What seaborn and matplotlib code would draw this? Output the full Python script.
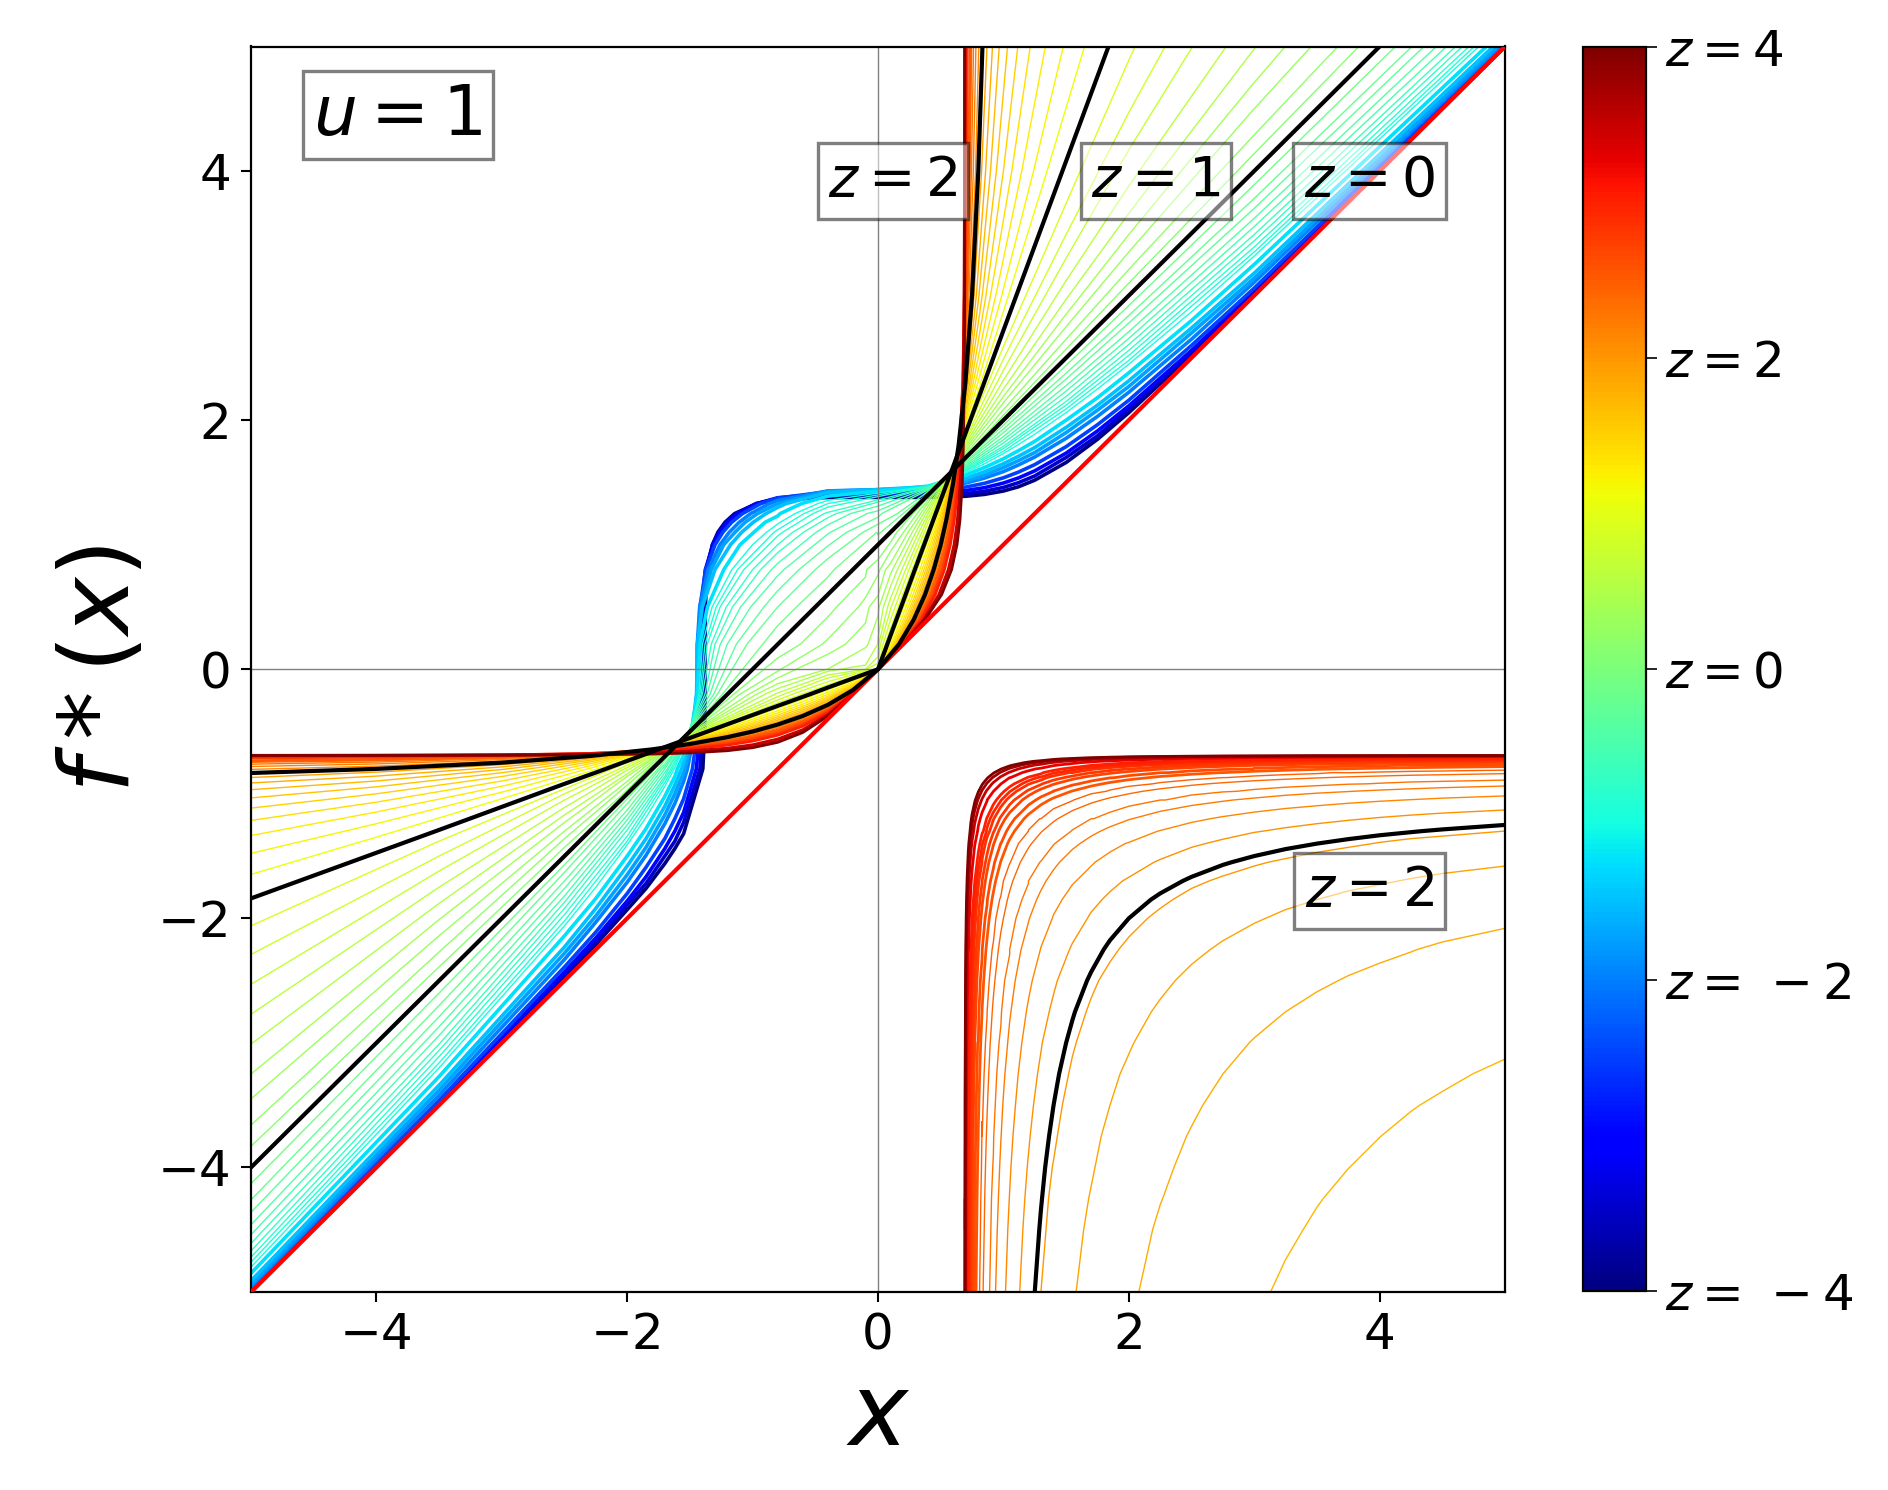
import numpy as np
import pandas as pd
import matplotlib
matplotlib.use("Agg")
import matplotlib.pyplot as plt
import seaborn as sns

# All curve values are estimates read off the reference chart and typed by hand.
KN_X1 = [-5, -3.5, -2.5, -2, -1.7, -1.55]
KN_Y2 = [-.8, -.5, -.2, .2, .5, .8, 1.1, 1.25]
KN_X3_NEG = [-.8, -.4, 0, .4, .7, 1, 1.5, 2, 3, 5]
KN_X3_POS = [-.8, -.4, -.1, 0, .1, .4, .7, 1, 1.5, 2, 3, 5]

Z_NEG = [-4, -3.5, -3, -2.5, -2, -1.75, -1.5, -1.25, -1, -.9, -.8, -.7, -.6, -.5, -.4, -.3, -.2, -.1]
NEG_LEFT = [
    [-5.00, -3.49, -2.47, -1.93, -1.56, -1.32], [-4.99, -3.48, -2.45, -1.89, -1.50, -1.23],
    [-4.99, -3.48, -2.43, -1.86, -1.44, -1.15], [-4.98, -3.46, -2.39, -1.80, -1.36, -1.04],
    [-4.96, -3.42, -2.33, -1.71, -1.24, -.90], [-4.94, -3.38, -2.28, -1.65, -1.17, -.83],
    [-4.91, -3.34, -2.23, -1.58, -1.10, -.75], [-4.85, -3.27, -2.14, -1.50, -1.02, -.69],
    [-4.80, -3.20, -2.06, -1.41, -.94, -.63], [-4.76, -3.16, -2.02, -1.38, -.91, -.62],
    [-4.72, -3.11, -1.97, -1.34, -.88, -.60], [-4.67, -3.06, -1.92, -1.29, -.86, -.59],
    [-4.61, -3.01, -1.87, -1.25, -.83, -.58], [-4.54, -2.94, -1.82, -1.21, -.80, -.57],
    [-4.46, -2.87, -1.76, -1.17, -.78, -.56], [-4.36, -2.79, -1.70, -1.13, -.76, -.56],
    [-4.26, -2.70, -1.63, -1.08, -.73, -.55], [-4.13, -2.60, -1.57, -1.04, -.72, -.55],
]
NEG_MID = [
    [-1.397, -1.382, -1.380, -1.380, -1.377, -1.361, -1.277, -1.143],
    [-1.42, -1.40, -1.397, -1.397, -1.393, -1.37, -1.27, -1.13],
    [-1.449, -1.420, -1.414, -1.414, -1.409, -1.377, -1.262, -1.117],
    [-1.48, -1.44, -1.431, -1.430, -1.42, -1.374, -1.237, -1.08],
    [-1.52, -1.462, -1.443, -1.441, -1.422, -1.355, -1.186, -1.015],
    [-1.54, -1.47, -1.445, -1.44, -1.41, -1.33, -1.14, -.96],
    [-1.567, -1.483, -1.447, -1.439, -1.401, -1.30, -1.087, -.893],
    [-1.60, -1.49, -1.44, -1.42, -1.36, -1.23, -.99, -.78],
    [-1.625, -1.50, -1.428, -1.40, -1.323, -1.166, -.889, -.661],
    [-1.64, -1.50, -1.42, -1.38, -1.29, -1.12, -.83, -.59],
    [-1.652, -1.505, -1.41, -1.362, -1.259, -1.07, -.762, -.518],
    [-1.67, -1.51, -1.40, -1.33, -1.21, -1.00, -.68, -.43],
    [-1.68, -1.51, -1.38, -1.30, -1.16, -.936, -.594, -.332],
    [-1.70, -1.51, -1.362, -1.258, -1.095, -.85, -.493, -.218],
    [-1.72, -1.51, -1.339, -1.203, -1.015, -.75, -.379, -.087],
    [-1.74, -1.51, -1.31, -1.13, -.91, -.63, -.25, .03],
    [-1.756, -1.507, -1.28, -1.046, -.80, -.50, -.12, .155],
    [-1.78, -1.50, -1.24, -.92, -.65, -.35, -.01, .20],
]
NEG_RIGHT = [
    [1.361, 1.379, 1.38, 1.38, 1.389, 1.431, 1.66, 2.06, 3.01, 5.00],
    [1.37, 1.40, 1.40, 1.40, 1.41, 1.46, 1.70, 2.09, 3.02, 5.00],
    [1.377, 1.412, 1.414, 1.416, 1.435, 1.495, 1.735, 2.115, 3.036, 5.008],
    [1.374, 1.426, 1.431, 1.435, 1.463, 1.537, 1.787, 2.16, 3.06, 5.02],
    [1.355, 1.432, 1.442, 1.452, 1.495, 1.587, 1.854, 2.224, 3.107, 5.04],
    [1.33, 1.43, 1.44, 1.46, 1.51, 1.62, 1.90, 2.27, 3.14, 5.06],
    [1.30, 1.419, 1.443, 1.466, 1.533, 1.65, 1.942, 2.316, 3.18, 5.09],
    [1.23, 1.39, 1.43, 1.47, 1.56, 1.69, 2.00, 2.38, 3.25, 5.14],
    [1.166, 1.356, 1.414, 1.47, 1.578, 1.732, 2.06, 2.449, 3.317, 5.196],
    [1.12, 1.33, 1.40, 1.47, 1.59, 1.75, 2.09, 2.48, 3.35, 5.23],
    [1.07, 1.302, 1.386, 1.467, 1.598, 1.772, 2.12, 2.52, 3.39, 5.27],
    [1.00, 1.26, 1.36, 1.46, 1.61, 1.79, 2.15, 2.56, 3.44, 5.32],
    [.936, 1.217, 1.342, 1.459, 1.62, 1.817, 2.19, 2.607, 3.49, 5.37],
    [.85, 1.159, 1.31, 1.454, 1.632, 1.842, 2.233, 2.656, 3.554, 5.44],
    [.75, 1.086, 1.272, 1.447, 1.645, 1.868, 2.277, 2.71, 3.62, 5.52],
    [.63, .99, 1.22, 1.44, 1.66, 1.90, 2.33, 2.78, 3.70, 5.62],
    [.50, .888, 1.164, 1.427, 1.67, 1.929, 2.377, 2.84, 3.78, 5.72],
    [.35, .74, 1.08, 1.41, 1.685, 1.96, 2.44, 2.92, 3.89, 5.86],
]

# extra readings along the bent parts of the nine bluest curves
Z_NEG_FINE = [-4, -3.5, -3, -2.5, -2, -1.75, -1.5, -1.25, -1]
KN_FINE_X = [-2.25, -1.85, -1.62, .85, 1.12, 1.25, 1.75, 2.5]
FINE_Y = [
    [-2.21, -1.76, -1.44, 1.404, 1.465, 1.518, 1.846, 2.525],
    [-2.19, -1.72, -1.38, 1.429, 1.498, 1.552, 1.874, 2.54],
    [-2.157, -1.667, -1.30, 1.458, 1.536, 1.593, 1.913, 2.56],
    [-2.11, -1.59, -1.20, 1.493, 1.583, 1.643, 1.963, 2.60],
    [-2.03, -1.494, -1.077, 1.535, 1.64, 1.704, 2.03, 2.65],
    [-1.98, -1.43, -1.0, 1.56, 1.675, 1.74, 2.08, 2.70],
    [-1.92, -1.36, -.93, 1.586, 1.71, 1.78, 2.12, 2.74],
    [-1.84, -1.28, -.86, 1.62, 1.755, 1.83, 2.18, 2.80],
    [-1.75, -1.19, -.79, 1.65, 1.804, 1.887, 2.25, 2.87],
]
KN_FINE_Y = [1.0, 1.18, 1.33]
FINE_X = [
    [-1.32, -1.22, -.965], [-1.32, -1.214, -.974], [-1.316, -1.198, -.966],
    [-1.299, -1.167, -.935], [-1.26, -1.107, -.865], [-1.23, -1.06, -.80],
    [-1.176, -.995, -.733], [-1.10, -.90, -.61], [-1.0, -.78, -.48],
]

Z_POS = [0, .1, .2, .3, .4, .5, .6, .7, .8, .9, 1]
POS_LEFT = [
    [-4, -2.5, -1.5, -1, -.7, -.55], [-3.83, -2.39, -1.43, -.97, -.69, -.55],
    [-3.66, -2.27, -1.36, -.93, -.67, -.55], [-3.45, -2.14, -1.30, -.90, -.66, -.55],
    [-3.25, -2.01, -1.23, -.86, -.65, -.55], [-3.01, -1.88, -1.17, -.84, -.65, -.55],
    [-2.77, -1.75, -1.11, -.81, -.64, -.56], [-2.53, -1.62, -1.05, -.79, -.635, -.56],
    [-2.29, -1.50, -1.00, -.77, -.63, -.56], [-2.06, -1.38, -.96, -.75, -.63, -.57],
    [-1.84, -1.29, -.92, -.736, -.625, -.57],
]
POS_MID = [
    [-1.8, -1.5, -1.2, -.8, -.5, -.2, .1, .25],
    [-1.83, -1.50, -1.15, -.62, -.33, -.09, .15, .28],
    [-1.85, -1.49, -1.10, -.446, -.156, .016, .203, .313],
    [-1.88, -1.48, -1.03, -.26, -.07, .06, .24, .34],
    [-1.91, -1.47, -.968, -.08, .009, .116, .273, .362],
    [-1.94, -1.46, -.90, -.003, .043, .155, .301, .382],
    [-1.98, -1.44, -.82, .0055, .077, .19, .326, .40],
    [-2.02, -1.42, -.75, .02, .105, .22, .35, .42],
    [-2.06, -1.41, -.68, .04, .136, .247, .369, .433],
    [-2.12, -1.38, -.605, .057, .16, .272, .387, .447],
    [-2.17, -1.36, -.54, .074, .184, .294, .405, .46],
]
POS_RIGHT = [
    [.2, .6, .9, 1, 1.1, 1.4, 1.7, 2, 2.5, 3, 4, 6],
    [.09, .42, .74, .88, 1.02, 1.38, 1.71, 2.04, 2.57, 3.10, 4.14, 6.2],
    [-.016, .241, .575, .757, .947, 1.361, 1.73, 2.085, 2.65, 3.21, 4.29, 6.42],
    [-.07, .12, .37, .59, .85, 1.34, 1.75, 2.14, 2.75, 3.35, 4.50, 6.7],
    [-.116, .002, .173, .427, .764, 1.31, 1.77, 2.19, 2.85, 3.49, 4.71, 7.05],
    [-.155, -.017, .034, .25, .666, 1.28, 1.79, 2.25, 2.97, 3.66, 4.98, 7.49],
    [-.19, -.046, 0, .101, .569, 1.25, 1.81, 2.32, 3.12, 3.88, 5.32, 8.06],
    [-.22, -.07, -.007, .05, .48, 1.22, 1.83, 2.40, 3.30, 4.17, 5.8, 8.95],
    [-.247, -.10, -.015, 0, .396, 1.18, 1.85, 2.49, 3.49, 4.47, 6.3, 9.85],
    [-.27, -.125, -.026, 0, .326, 1.13, 1.88, 2.59, 3.74, 4.89, 7.07, 11.3],
    [-.294, -.147, -.037, 0, .272, 1.087, 1.90, 2.72, 4.08, 5.44, 8.15, 13.6],
]

# z > 1: |y| on the left arm at |x| = KN_T; the upper arm is the mirror pair (v, T)
KN_T = [5, 4, 3, 2.3, 1.8, 1.5, 1.2, 1, .8, .6, .4, .2, 0]
Z_PLUS = [1.1, 1.2, 1.3, 1.4, 1.5, 1.6, 1.7, 1.8, 1.9, 2, 2.1, 2.2, 2.3, 2.4, 2.5, 2.75, 3, 3.25, 3.5, 4]
PLUS_V = [
    [1.647, 1.348, 1.04, .82, .657, .557, .455, .386, .314, .242, .167, .088, 0],
    [1.478, 1.24, .987, .796, .652, .562, .468, .402, .334, .261, .185, .102, 0],
    [1.335, 1.146, .939, .776, .649, .567, .48, .417, .351, .28, .202, .114, 0],
    [1.214, 1.067, .897, .759, .647, .572, .49, .431, .367, .297, .217, .124, 0],
    [1.115, 1.0, .861, .744, .645, .577, .501, .444, .382, .312, .231, .134, 0],
    [1.033, .944, .831, .731, .643, .582, .511, .457, .396, .326, .244, .142, 0],
    [.967, .897, .805, .72, .643, .586, .52, .469, .409, .34, .255, .149, 0],
    [.913, .858, .784, .711, .642, .591, .529, .48, .422, .352, .267, .156, 0],
    [.869, .826, .766, .704, .643, .596, .537, .49, .433, .364, .276, .162, 0],
    [.833, .8, .75, .697, .643, .6, .545, .5, .444, .375, .286, .167, 0],
    [.804, .778, .737, .692, .644, .604, .553, .509, .455, .385, .294, .171, 0],
    [.781, .76, .726, .688, .645, .609, .56, .518, .465, .395, .302, .175, 0],
    [.762, .745, .717, .684, .646, .613, .568, .527, .474, .404, .31, .178, 0],
    [.747, .734, .71, .681, .647, .617, .574, .535, .483, .413, .317, .181, 0],
    [.734, .724, .704, .679, .649, .621, .58, .543, .492, .422, .323, .184, 0],
    [.712, .706, .694, .676, .653, .631, .596, .561, .512, .441, .337, .189, 0],
    [.70, .696, .688, .676, .658, .64, .609, .577, .53, .457, .348, .192, 0],
    [.692, .691, .689, .684, .675, .664, .644, .618, .574, .497, .371, .198, 0],
    [.691, .69, .686, .68, .669, .656, .633, .606, .56, .485, .365, .197, 0],
    [.693, .692, .691, .687, .681, .672, .654, .63, .587, .508, .377, .198, 0],
]

# lower-right branch: partner coordinate w at each knot
KN_W = [5, 4.5, 4, 3.5, 3, 2.5, 2, 1.7, 1.4, 1.2, 1.05, .98, .92, .87, .83, .8, .77, .75, .74, .72, .71, .70]
Z_LOW = [1.737, 1.818, 1.899, 1.98, 2, 2.061, 2.141, 2.222, 2.303, 2.384, 2.465, 2.545, 2.626, 2.707, 2.79,
         2.87, 2.95, 3.03, 3.25, 3.5, 3.75, 4]
LOW_W = [
    [3.13, 3.39, 3.76, 4.32, 5.31, 7.43],
    [2.08, 2.19, 2.36, 2.59, 2.96, 3.67, 5.41, 8.7],
    [1.58, 1.64, 1.73, 1.85, 2.04, 2.37, 3.09, 4.15, 7.7, 28],
    [1.30, 1.34, 1.39, 1.47, 1.58, 1.76, 2.15, 2.64, 3.94, 7.24, 40],
    [1.25, 1.286, 1.333, 1.4, 1.5, 1.667, 2, 2.43, 3.5, 6, 21],
    [1.13, 1.155, 1.19, 1.24, 1.31, 1.43, 1.67, 1.95, 2.61, 3.89, 7.9, 21],
    [1.017, 1.035, 1.06, 1.096, 1.147, 1.23, 1.39, 1.58, 1.97, 2.65, 4.19, 6.5, 16],
    [.9375, .951, .97, .995, 1.034, 1.094, 1.208, 1.34, 1.61, 2.03, 2.83, 3.78, 5.87, 15],
    [.89, .90, .915, .935, .965, 1.01, 1.10, 1.20, 1.41, 1.72, 2.29, 2.86, 3.9, 6.5, 16],
    [.838, .847, .857, .873, .895, .932, 1.0, 1.075, 1.224, 1.434, 1.783, 2.11, 2.63, 3.58, 5.7, 15],
    [.81, .817, .825, .838, .857, .887, .94, 1.0, 1.12, 1.29, 1.56, 1.82, 2.19, 2.78, 3.63, 5.7],
    [.782, .787, .794, .804, .819, .843, .887, .938, 1.033, 1.165, 1.365, 1.54, 1.79, 2.16, 2.73, 3.69, 7.2],
    [.765, .769, .775, .783, .795, .816, .854, .897, .978, 1.09, 1.258, 1.40, 1.60, 1.89, 2.32, 2.99, 4.2],
    [.748, .751, .756, .762, .772, .789, .821, .856, .924, 1.015, 1.151, 1.262, 1.413, 1.62, 1.906, 2.29, 3.10, 4.65, 7.1],
    [.737, .74, .743, .749, .757, .772, .80, .83, .89, .97, 1.087, 1.183, 1.31, 1.484, 1.716, 2.02, 2.62, 3.7, 4.9],
    [.726, .728, .731, .736, .743, .755, .779, .805, .856, .924, 1.024, 1.104, 1.209, 1.348, 1.527, 1.75, 2.15, 2.69, 3.19, 7.7],
    [.719, .721, .723, .727, .734, .744, .765, .788, .834, .895, .984, 1.055, 1.148, 1.27, 1.423, 1.61, 1.937, 2.36, 2.73, 5.5],
    [.712, .714, .716, .719, .725, .734, .751, .772, .812, .866, .944, 1.006, 1.086, 1.19, 1.319, 1.47, 1.724, 2.03, 2.28, 3.42, 6.2],
    [.701, .702, .703, .706, .709, .716, .729, .744, .774, .815, .87, .921, .981, 1.057, 1.15, 1.257, 1.427, 1.617, 1.757, 2.29, 2.93, 5.7],
    [.695, .696, .697, .698, .70, .705, .714, .725, .748, .78, .826, .862, .909, .969, 1.04, 1.12, 1.246, 1.38, 1.474, 1.80, 2.16, 3.06],
    [.693, .694, .694, .695, .697, .70, .706, .715, .732, .758, .795, .826, .865, .913, .972, 1.038, 1.14, 1.248, 1.324, 1.587, 1.85, 2.46],
    [.694, .694, .695, .695, .696, .698, .703, .71, .724, .745, .776, .802, .835, .877, .928, .985, 1.073, 1.166, 1.234, 1.46, 1.69, 2.27],
]
# further readings on the same branch, in the round corner of each curve
KN_W_FINE = [4.25, 3.75, 3.25, 2.75, 2.25, 1.85, 1.55, 1.3]
LOW_W_FINE = [
    [3.55, 4.01, 4.74, 6.14],
    [2.27, 2.46, 2.75, 3.25, 4.30, 6.6, 13.5],
    [1.68, 1.78, 1.93, 2.18, 2.65, 3.50, 5.26, 11.7],
    [1.36, 1.43, 1.52, 1.66, 1.92, 2.35, 3.11, 4.99],
    [1.308, 1.364, 1.444, 1.571, 1.8, 2.176, 2.818, 4.333],
    [1.171, 1.213, 1.272, 1.365, 1.527, 1.786, 2.20, 3.07],
    [1.047, 1.076, 1.118, 1.183, 1.295, 1.468, 1.73, 2.23],
    [.96, .982, 1.012, 1.06, 1.141, 1.265, 1.447, 1.774],
    [.905, .923, .947, .985, 1.05, 1.148, 1.29, 1.54],
    [.851, .864, .883, .911, .96, 1.032, 1.135, 1.31],
    [.82, .831, .846, .87, .91, .97, 1.056, 1.2],
    [.79, .799, .811, .83, .861, .909, .977, 1.088],
    [.771, .779, .789, .805, .831, .872, .93, 1.025],
    [.753, .759, .767, .78, .802, .836, .884, .962],
    [.741, .746, .753, .764, .784, .813, .857, .926],
    [.7295, .733, .739, .748, .766, .79, .83, .89],
    [.722, .725, .73, .738, .754, .775, .81, .865],
    [.715, .717, .722, .729, .742, .761, .79, .84],
    [.7025, .7045, .7075, .7125, .722, .736, .757, .794],
    [.6955, .6975, .699, .702, .709, .719, .735, .763],
    [.694, .695, .696, .698, .703, .71, .722, .745],
    [.6945, .695, .6955, .697, .70, .706, .716, .734],
]

IDENTITY = [-5, 5]
CBAR_TICKS = [-4, -2, 0, 2, 4]
AXIS_TICKS = [-4, -2, 0, 2, 4]
BLACK_Z = [0, 1, 2]


def main_curve(z, left, mid, right, kn_right):
    xs = list(KN_X1) + list(mid) + list(kn_right)
    ys = list(left) + list(KN_Y2) + list(right)
    return pd.DataFrame({"x": xs, "y": ys, "z": z, "curve": f"m{z}"})


def fine_curve(z, ys, xs):
    return pd.DataFrame({"x": list(KN_FINE_X) + list(xs), "y": list(ys) + list(KN_FINE_Y),
                         "z": z, "curve": f"m{z}"})


def plus_curve(z, v):
    t, v = np.array(KN_T, float), np.array(v, float)
    return pd.DataFrame({"x": np.r_[-t, v], "y": np.r_[-v, t], "z": z, "curve": f"p{z}"})


def low_curve(z, w, w_fine):
    t = np.array(KN_W[:len(w)] + KN_W_FINE[:len(w_fine)], float)
    w = np.array(list(w) + list(w_fine), float)
    return pd.DataFrame({"x": np.r_[t, w], "y": np.r_[-w, -t], "z": z, "curve": f"l{z}"})


frames = [main_curve(z, l, m, r, KN_X3_NEG) for z, l, m, r in zip(Z_NEG, NEG_LEFT, NEG_MID, NEG_RIGHT)]
frames += [fine_curve(z, y, x) for z, y, x in zip(Z_NEG_FINE, FINE_Y, FINE_X)]
frames += [main_curve(z, l, m, r, KN_X3_POS) for z, l, m, r in zip(Z_POS, POS_LEFT, POS_MID, POS_RIGHT)]
frames += [plus_curve(z, v) for z, v in zip(Z_PLUS, PLUS_V)]
frames += [low_curve(z, w, f) for z, w, f in zip(Z_LOW, LOW_W, LOW_W_FINE)]
curves = pd.concat(frames, ignore_index=True).sort_values(["curve", "x", "y"])

sns.set_style("white")
plt.rcParams.update({
    "mathtext.fontset": "dejavusans", "axes.edgecolor": "black", "text.color": "black",
    "axes.labelcolor": "black", "xtick.color": "black", "ytick.color": "black",
})

fig = plt.figure(figsize=(18.88, 14.9), dpi=100)
ax = fig.add_axes([251 / 1888, 1 - 1292 / 1490, (1505 - 251) / 1888, (1292 - 46.5) / 1490])
cax = fig.add_axes([1583 / 1888, 1 - 1291 / 1490, (1646 - 1583) / 1888, (1291 - 46.5) / 1490])
jet = plt.get_cmap("jet")


def draw(sub, lw, **kw):
    sns.lineplot(data=sub, x="x", y="y", hue="z", units="curve", estimator=None, sort=False,
                 palette=jet, hue_norm=(-4, 4), legend=False, linewidth=lw, ax=ax, **kw)


draw(curves[curves.z <= -1.25], 2.6)
draw(curves[(curves.z > -1.25) & (curves.z < 2.5)], 1.0)
draw(curves[curves.z >= 2.5], 2.0)

black = curves[curves.z.isin(BLACK_Z)]
sns.lineplot(data=black, x="x", y="y", units="curve", estimator=None, sort=False, color="black",
             linewidth=3.0, legend=False, ax=ax, zorder=4)
sns.lineplot(x=IDENTITY, y=IDENTITY, color="red", linewidth=3.0, estimator=None, ax=ax, zorder=3)
ax.axhline(0, color="#808080", linewidth=1.0, zorder=2.5)
ax.axvline(0, color="#808080", linewidth=1.0, zorder=2.5)

ax.set_xlim(-5, 5)
ax.set_ylim(-5, 5)
ax.set_xticks(AXIS_TICKS)
ax.set_yticks(AXIS_TICKS)
ax.tick_params(labelsize=36, length=7, width=1.5, bottom=True, left=True, pad=7)
for s in ax.spines.values():
    s.set_linewidth(1.6)
    s.set_color("black")
ax.set_xlabel("$x$", fontsize=72)
ax.set_ylabel("$f*(x)$", fontsize=70)
ax.xaxis.set_label_coords(0.5, -0.0616)
ax.yaxis.set_label_coords(-0.0815, 0.5)

ax.text(-3.83, 4.45, "$u=1$", fontsize=50, ha="center", va="center", zorder=5,
        bbox=dict(boxstyle="square,pad=0.15", facecolor="white", edgecolor="black", alpha=0.5, linewidth=2.4))
box = dict(boxstyle="square,pad=0.19", facecolor="white", edgecolor="black", alpha=0.5, linewidth=2.4)
for tx, ty, s in [(.12, 3.92, "$z=2$"), (2.217, 3.92, "$z=1$"), (3.92, 3.92, "$z=0$"), (3.92, -1.78, "$z=2$")]:
    ax.text(tx, ty, s, fontsize=40, ha="center", va="center", bbox=box, zorder=5)

sm = plt.cm.ScalarMappable(norm=plt.Normalize(-4, 4), cmap=jet)
cb = fig.colorbar(sm, cax=cax)
cb.set_ticks(CBAR_TICKS)
cb.set_ticklabels([f"$z=\\,-{-v}$" if v < 0 else f"$z={v}$" for v in CBAR_TICKS])
cax.tick_params(labelsize=36, length=8, width=1.2, right=True, pad=6)
cb.outline.set_linewidth(1.6)

fig.savefig("out.png", dpi=100, facecolor="white")
